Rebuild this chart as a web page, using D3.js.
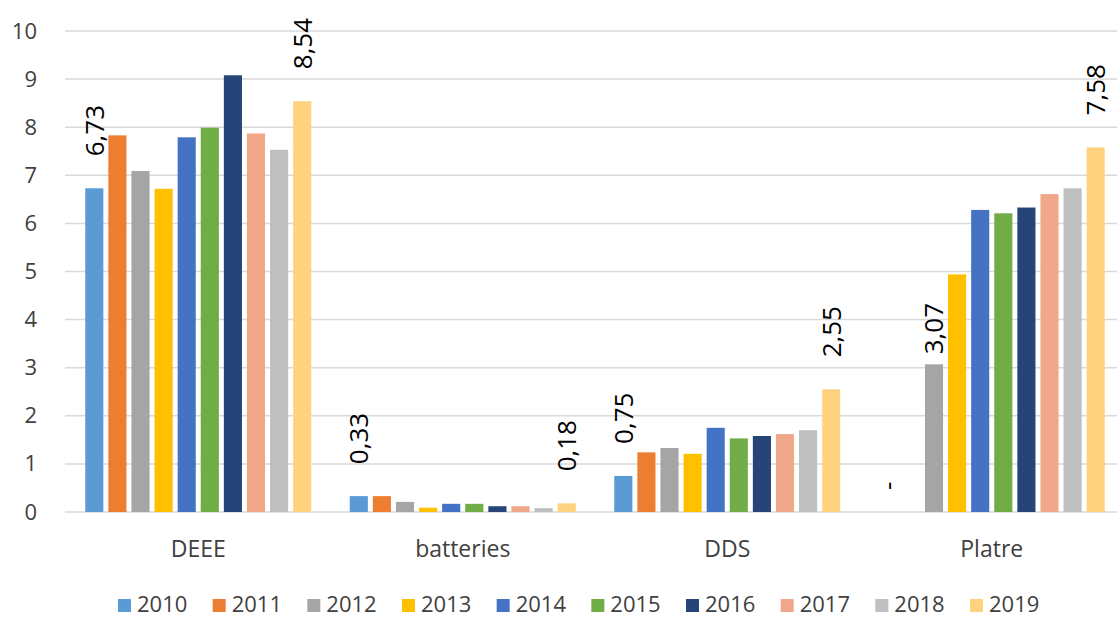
<!DOCTYPE html>
<html>
<head>
<meta charset="utf-8">
<script src="https://cdn.jsdelivr.net/npm/d3@7"></script>
<style>
  body { margin: 0; background: #fff; }
  text { font-family: "Open Sans", sans-serif; }
</style>
</head>
<body>
<div id="chart"></div>
<script>
// Data
var categories = ["DEEE", "batteries", "DDS", "Platre"];
var years = ["2010", "2011", "2012", "2013", "2014", "2015", "2016", "2017", "2018", "2019"];
var deee = [6.73, 7.83, 7.09, 6.72, 7.79, 7.99, 9.08, 7.87, 7.53, 8.54];
var batteries = [0.33, 0.33, 0.21, 0.09, 0.17, 0.17, 0.12, 0.12, 0.08, 0.18];
var dds = [0.75, 1.24, 1.33, 1.21, 1.75, 1.53, 1.58, 1.62, 1.70, 2.55];
var platre = [null, null, 3.07, 4.94, 6.28, 6.21, 6.33, 6.61, 6.73, 7.58];
var yTicks = [0, 1, 2, 3, 4, 5, 6, 7, 8, 9, 10];
// which bars carry a data label
var labelled = [
  ["DEEE", "2010"], ["DEEE", "2019"],
  ["batteries", "2010"], ["batteries", "2019"],
  ["DDS", "2010"], ["DDS", "2019"],
  ["Platre", "2010"], ["Platre", "2012"], ["Platre", "2019"]
];

var colors = ["#5b9bd5", "#ed7d31", "#a5a5a5", "#ffc000", "#4472c4",
              "#70ad47", "#264478", "#f1a78a", "#bfbfbf", "#ffd280"];

var series = { DEEE: deee, batteries: batteries, DDS: dds, Platre: platre };

var W = 1117, H = 619;
var svg = d3.select("#chart").append("svg")
  .attr("width", W)
  .attr("height", H);

var x0 = d3.scaleBand().domain(categories).range([66, 1124]);
var x1 = d3.scaleBand().domain(years)
  .range([19.25, x0.bandwidth() - 19.25])
  .paddingInner(0.216);
var y = d3.scaleLinear().domain([0, 10]).range([512, 31]);
var color = d3.scaleOrdinal().domain(years).range(colors);

// gridlines
svg.append("g")
  .selectAll("line")
  .data(yTicks)
  .enter()
  .append("line")
  .attr("x1", 65)
  .attr("x2", W)
  .attr("y1", function (d) { return y(d); })
  .attr("y2", function (d) { return y(d); })
  .attr("stroke", "#d9d9d9")
  .attr("stroke-width", 1.5);

// y axis labels
var yAxis = svg.append("g")
  .attr("transform", "translate(37,0)")
  .call(d3.axisLeft(y).tickValues(yTicks).tickSize(0).tickPadding(0));
yAxis.select(".domain").remove();
yAxis.selectAll("text")
  .attr("font-family", "Open Sans")
  .attr("font-size", "22px")
  .attr("fill", "#404040");

// x axis labels
var xAxis = svg.append("g")
  .attr("transform", "translate(0,512)")
  .call(d3.axisBottom(x0).tickSize(0).tickPadding(29));
xAxis.select(".domain").remove();
xAxis.selectAll("text")
  .attr("font-family", "Open Sans")
  .attr("font-size", "23px")
  .attr("fill", "#404040");

// bars
var groups = svg.append("g")
  .selectAll("g")
  .data(categories)
  .enter()
  .append("g")
  .attr("transform", function (c) { return "translate(" + x0(c) + ",0)"; });

groups.selectAll("rect")
  .data(function (c) {
    return years.map(function (yr, i) { return { year: yr, value: series[c][i] }; })
      .filter(function (d) { return d.value !== null; });
  })
  .enter()
  .append("rect")
  .attr("x", function (d) { return x1(d.year); })
  .attr("y", function (d) { return y(d.value); })
  .attr("width", x1.bandwidth())
  .attr("height", function (d) { return y(0) - y(d.value); })
  .attr("fill", function (d) { return color(d.year); });

// data labels (rotated)
var labelData = labelled.map(function (p) {
  var v = series[p[0]][years.indexOf(p[1])];
  return { cat: p[0], year: p[1], value: v };
});

svg.append("g")
  .selectAll("text")
  .data(labelData)
  .enter()
  .append("text")
  .attr("transform", function (d) {
    var cx = x0(d.cat) + x1(d.year) + x1.bandwidth() / 2;
    var gap = 32;
    if (d.value === null) gap = 22;
    else if (d.cat === "Platre" && d.year === "2012") gap = 10;
    var top = y(d.value === null ? 0 : d.value) - gap;
    return "translate(" + cx + "," + top + ") rotate(-90)";
  })
  .attr("dy", "0.36em")
  .attr("text-anchor", "start")
  .attr("font-size", "26px")
  .attr("fill", "#000")
  .text(function (d) {
    return d.value === null ? "-" : d.value.toFixed(2).replace(".", ",");
  });

// legend
var lx = d3.scalePoint().domain(years).range([118, 970]);
var legend = svg.append("g")
  .selectAll("g")
  .data(years)
  .enter()
  .append("g")
  .attr("transform", function (d) { return "translate(" + lx(d) + ",599)"; });

legend.append("rect")
  .attr("width", 13)
  .attr("height", 13)
  .attr("fill", function (d) { return color(d); });

legend.append("text")
  .attr("x", 19)
  .attr("y", 13)
  .attr("font-size", "22px")
  .attr("fill", "#404040")
  .text(function (d) { return d; });
</script>
</body>
</html>
